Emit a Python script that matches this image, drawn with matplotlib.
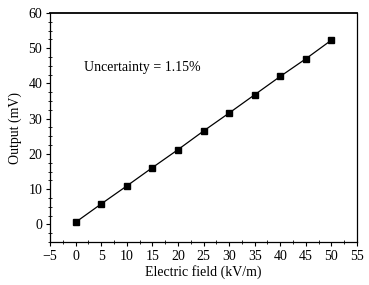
import matplotlib
matplotlib.use("Agg")
from matplotlib import pyplot as plt
from matplotlib.ticker import MultipleLocator

# Measured points
field = [0, 5, 10, 15, 20, 25, 30, 35, 40, 45, 50]
output = [0.6, 5.8, 10.9, 16.1, 21.2, 26.5, 31.6, 36.8, 42.0, 47.0, 52.3]

plt.rcParams['font.family'] = ['Liberation Serif', 'DejaVu Serif']
plt.rcParams['font.size'] = 10

fig = plt.figure(figsize=(3.69, 2.85), dpi=100)
ax = fig.add_axes([50 / 369, 1 - 242 / 285, 307 / 369, 229 / 285])

ax.plot(field, output, color='black', linewidth=0.9, marker='s', markersize=3.8)

ax.set_xlim(-5, 55)
ax.set_ylim(-5, 60)
ax.xaxis.set_major_locator(MultipleLocator(5))
ax.xaxis.set_minor_locator(MultipleLocator(2.5))
ax.set_yticks([0, 10, 20, 30, 40, 50, 60])
ax.yaxis.set_minor_locator(MultipleLocator(2.5))
ax.tick_params(which='major', direction='out', length=3, width=0.8, pad=2.5)
ax.tick_params(which='minor', direction='inout', length=3, width=0.6)

for s in ax.spines.values():
    s.set_linewidth(0.9)
ax.spines['top'].set_linewidth(1.3)

ax.set_xlabel('Electric field (kV/m)', labelpad=2)
ax.set_ylabel('Output (mV)', labelpad=5)
ax.text(0.112, 0.764, 'Uncertainty = 1.15%', transform=ax.transAxes,
        va='center', fontsize=10)

fig.savefig('out.png', dpi=100)
